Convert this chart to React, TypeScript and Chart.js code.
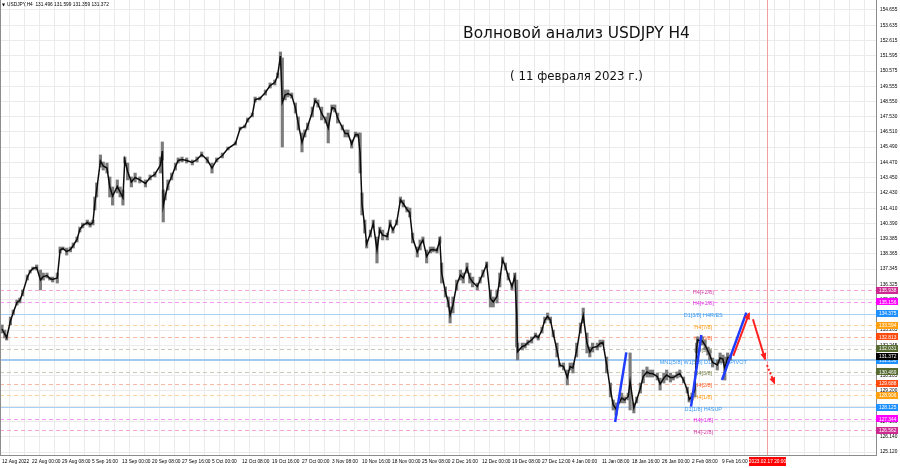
import React, { useEffect, useRef } from 'react';
import { Chart, registerables } from 'chart.js';

Chart.register(...registerables);

// ---- Price data (H4 bar index from 12 Aug 2022, sampled) ----
const candleBars = [0,3,5,9,12,16,19,22,27,30,33,37,41,44,48,51,54,59,62,65,69,73,76,80,83,86,91,94,97,99,101,105,108,112,115,118,123,126,129,131,134,138,142,147,153,158,163,169,171,172,174,177,181,185,188,192,197,203,208,213,219,224,229,235,241,249,254,259,262,267,270,275,281,286,291,294,297,299,302,305,309,313,316,320,323,326,331,334,337,341,345,348,352,355,358,363,366,369,373,377,380,382,384,387,389,393,396,400,403,406,411,414,417,421,425,428,432,435,438,443,446,449,453,457,460,464,467,469,473,476,478,481,485,489,492,496,499,502,507,510,513,517,521,524,528,531,534,537,540,544,547,549,550,555,558,561,565,569,572,576,579,582,585,588,592,595,599,603,606,609,613,617,620,624,627,630,635,638,641,645,649,652,655,661,664,668,670,674,677,681,684,688,691,694,699,702,706,709,713,716,720,723,727,731,733,736,739,741,742,747,750,753,755,758,763,766,769,771,774,777];

const candleHighs = [133.61,133.27,132.94,134.14,134.61,135.28,135.41,135.95,136.95,137.28,137.48,137.62,137.28,137.08,137.08,136.81,136.81,137.08,138.82,138.82,138.75,138.82,139.09,139.49,140.15,140.42,140.62,140.49,140.62,142.16,143.10,144.97,144.50,144.43,143.50,142.83,143.30,142.83,142.63,144.83,144.43,143.50,143.76,143.50,143.30,143.63,143.83,144.83,145.84,142.63,142.43,143.30,143.76,144.43,144.77,144.83,144.77,144.63,144.83,145.17,144.83,144.43,144.77,145.10,145.50,145.84,146.84,146.97,147.44,147.77,148.84,148.84,149.31,149.78,149.98,150.45,151.85,151.45,149.31,149.31,149.11,148.44,147.51,146.44,146.64,147.10,148.17,148.77,148.64,148.17,147.51,147.77,148.31,148.31,147.77,146.97,146.64,146.64,145.97,146.50,146.44,146.44,142.43,140.62,139.29,139.95,140.62,139.49,140.15,139.95,139.75,140.62,140.15,140.62,142.16,141.96,141.49,141.42,139.75,138.82,139.29,139.49,138.62,138.82,138.82,138.75,139.49,137.75,136.15,135.48,134.81,135.48,136.61,137.28,137.08,137.75,137.08,136.81,136.41,136.81,137.28,137.82,135.95,135.48,135.95,137.08,138.15,137.75,137.08,136.41,137.08,136.61,132.40,132.40,132.40,132.60,132.81,133.07,132.94,133.47,134.14,134.41,134.14,133.27,132.40,131.07,131.07,130.60,131.07,131.07,132.40,133.74,134.74,133.07,132.14,132.40,132.40,132.60,132.60,131.47,129.73,128.60,128.40,129.06,128.80,129.06,131.74,128.40,128.80,129.73,130.60,130.80,130.60,130.60,130.40,130.06,130.40,130.60,130.40,130.26,130.47,130.60,130.13,129.46,128.80,129.06,129.73,132.40,132.81,132.81,132.60,132.14,131.94,131.40,131.27,131.74,131.60,131.47,131.74,131.60];

const candleLows = [133.07,132.74,132.60,133.61,134.28,134.94,135.08,135.55,136.61,137.08,137.28,137.28,135.95,136.61,136.75,136.61,136.48,136.41,138.42,138.62,138.28,138.49,138.75,139.15,139.82,140.09,140.29,140.15,140.29,141.29,142.16,144.16,143.96,143.76,142.16,141.62,142.43,142.16,141.62,144.43,143.30,142.83,143.16,143.10,142.83,143.30,143.50,143.76,144.63,140.49,141.96,142.63,143.30,143.96,144.43,144.50,144.43,144.30,144.50,144.83,144.43,143.76,144.50,144.77,145.30,145.63,146.64,146.77,147.17,147.51,148.51,148.64,148.97,149.44,149.64,150.11,151.31,145.50,148.64,148.84,148.77,147.77,146.64,145.17,146.17,146.64,147.51,148.44,148.17,147.31,147.10,145.77,147.97,147.84,147.10,146.64,146.17,146.17,145.43,146.17,146.17,143.76,140.96,139.75,138.75,139.49,140.15,137.75,139.75,139.29,139.29,140.15,139.75,140.29,141.76,141.49,141.16,140.82,139.09,138.15,138.62,139.09,137.75,138.42,138.49,138.42,139.09,136.41,135.48,134.81,133.74,134.41,135.95,136.61,136.41,137.08,136.41,136.15,135.95,136.41,136.81,137.48,134.81,134.81,135.08,136.15,137.75,137.28,136.61,135.95,136.61,132.14,131.27,131.94,132.07,132.27,132.40,132.74,132.60,133.07,133.74,133.94,133.74,132.81,131.47,130.80,130.60,129.60,130.60,130.40,131.47,133.07,133.74,131.74,131.47,131.80,131.94,132.14,132.27,130.40,128.80,127.93,127.59,128.40,128.40,128.60,127.93,127.73,128.40,129.06,129.73,130.13,130.13,130.13,129.93,129.26,129.73,129.93,129.80,129.93,130.06,130.13,129.73,129.06,128.46,128.60,128.80,131.74,132.40,132.27,131.94,131.60,131.27,130.80,130.60,131.07,131.07,129.93,131.13,131.27];

// ---- Axis labels ----
const xTickLabels = ['12 Aug 2022','22 Aug 00:00','29 Aug 08:00','5 Sep 16:00','13 Sep 00:00','20 Sep 08:00','27 Sep 16:00','5 Oct 00:00','12 Oct 08:00','19 Oct 16:00','27 Oct 00:00','3 Nov 08:00','10 Nov 16:00','18 Nov 00:00','25 Nov 08:00','2 Dec 16:00','12 Dec 00:00','19 Dec 08:00','27 Dec 12:00','4 Jan 00:00','11 Jan 08:00','18 Jan 16:00','26 Jan 00:00','2 Feb 08:00','9 Feb 16:00'];
const barsPerLabel = 32;
const barsPerGrid = 16;
const xMin = -2.13;
const xMax = 932.3;

const priceTicks = [154.655,153.635,152.615,151.595,150.575,149.555,148.550,147.530,146.510,145.490,144.470,143.450,142.430,141.410,140.390,139.385,138.365,137.345,136.325,135.305,134.285,133.265,132.245,131.225,130.205,129.200,128.180,127.160,126.140,125.120];
const yMin = 124.921;
const yMax = 155.323;

// ---- Murrey levels ----
const levelPrices = [135.938,135.156,134.375,133.594,132.813,132.031,131.250,130.469,129.688,128.906,128.125,127.344,126.562];
const levelNames = ['H4[+2/8]','H4[+1/8]','D1[3/8] H4R/ES','H4[7/8]','H4[6/8]','H4[5/8]','MN1[5/8] W1[5/8] D1[5/8] H4PIVOT','H4[3/8]','H4[2/8]','H4[1/8]','D1[1/8] H4SUP','H4[-1/8]','H4[-2/8]'];
const levelLabelBar = 748;

const levelStyles = [
  { line: '#f3a6d6', text: '#d03aa0', box: '#cc2a90', dash: [4, 3], width: 1 },
  { line: '#f49af4', text: '#e02ee0', box: '#ff00ff', dash: [4, 3], width: 1 },
  { line: '#a9d0f6', text: '#3797f0', box: '#1e90ff', dash: [], width: 1 },
  { line: '#fbd3a2', text: '#ff9a10', box: '#ffa010', dash: [4, 3], width: 1 },
  { line: '#f9b8a2', text: '#ff5a20', box: '#ff4a10', dash: [4, 3], width: 1 },
  { line: '#c9cab8', text: '#6d7a3c', box: '#556b2f', dash: [4, 3], width: 1 },
  { line: '#a3cbf2', text: '#3797f0', box: '#1e90ff', dash: [], width: 2 },
  { line: '#c9cab8', text: '#6d7a3c', box: '#556b2f', dash: [4, 3], width: 1 },
  { line: '#f9b8a2', text: '#ff5a20', box: '#ff4a10', dash: [4, 3], width: 1 },
  { line: '#fbd3a2', text: '#ff9a10', box: '#ffa010', dash: [4, 3], width: 1 },
  { line: '#a9d0f6', text: '#3797f0', box: '#1e90ff', dash: [], width: 1 },
  { line: '#f49af4', text: '#e02ee0', box: '#ff00ff', dash: [4, 3], width: 1 },
  { line: '#f3a6d6', text: '#d03aa0', box: '#cc2a90', dash: [4, 3], width: 1 },
];

const symbolHeader = 'USDJPY,H4  131.496 131.599 131.359 131.372';
const currentPrice = 131.372;
const forecastBar = 816;
const forecastLabel = '2023.02.17 20:00';

// ---- Wave markup ----
const blueWaves: number[][][] = [
  [[654, 127.13], [666, 131.78]],
  [[735, 128.15], [746, 132.94]],
  [[768, 129.93], [794, 134.43]],
];
const redArrows: number[][][] = [
  [[780, 131.54], [797, 134.39]],
  [[801, 133.99], [814, 131.32]],
  [[816, 130.93], [824, 129.71]],
];
const redDotted = [false, false, true];

const titleText = 'Волновой анализ USDJPY H4';
const subtitleText = '( 11 февраля 2023 г.)';

const AXIS_FAMILY = '"Liberation Sans Narrow", "Liberation Sans", Arial, sans-serif';
const SMALL_FONT = `4.8px ${AXIS_FAMILY}`;

const overlayPlugin = {
  id: 'overlay',
  beforeDatasetsDraw(chart: any) {
    const { ctx, chartArea: a, scales } = chart;
    const x = scales.x, y = scales.y;
    ctx.save();
    const fx = Math.round(x.getPixelForValue(forecastBar)) + 0.5;
    ctx.strokeStyle = '#f0a0a0';
    ctx.lineWidth = 1;
    ctx.beginPath();
    ctx.moveTo(fx, a.top);
    ctx.lineTo(fx, a.bottom);
    ctx.stroke();
    levelPrices.forEach((p, i) => {
      const st = levelStyles[i];
      const py = Math.round(y.getPixelForValue(p)) + (st.width === 2 ? 0 : 0.5);
      ctx.setLineDash(st.dash);
      ctx.strokeStyle = st.line;
      ctx.lineWidth = st.width;
      ctx.beginPath();
      ctx.moveTo(a.left, py);
      ctx.lineTo(a.right, py);
      ctx.stroke();
    });
    ctx.setLineDash([]);
    ctx.font = '5.5px "Liberation Sans", Arial, sans-serif';
    ctx.textAlign = 'center';
    ctx.textBaseline = 'middle';
    const lx = x.getPixelForValue(levelLabelBar);
    levelPrices.forEach((p, i) => {
      ctx.fillStyle = levelStyles[i].text;
      ctx.fillText(levelNames[i], lx, y.getPixelForValue(p) + 2);
    });
    ctx.restore();
  },
  afterDatasetsDraw(chart: any) {
    const { ctx, scales } = chart;
    const x = scales.x, y = scales.y;
    ctx.save();
    ctx.fillStyle = '#ff1f1f';
    redArrows.forEach((seg) => {
      const x0 = x.getPixelForValue(seg[0][0]), y0 = y.getPixelForValue(seg[0][1]);
      const x1 = x.getPixelForValue(seg[1][0]), y1 = y.getPixelForValue(seg[1][1]);
      const ang = Math.atan2(y1 - y0, x1 - x0);
      const len = 6, half = 3;
      ctx.beginPath();
      ctx.moveTo(x1 + Math.cos(ang) * 1.5, y1 + Math.sin(ang) * 1.5);
      ctx.lineTo(x1 - Math.cos(ang) * len + Math.cos(ang + Math.PI / 2) * half, y1 - Math.sin(ang) * len + Math.sin(ang + Math.PI / 2) * half);
      ctx.lineTo(x1 - Math.cos(ang) * len - Math.cos(ang + Math.PI / 2) * half, y1 - Math.sin(ang) * len - Math.sin(ang + Math.PI / 2) * half);
      ctx.closePath();
      ctx.fill();
    });
    ctx.restore();
  },
  afterDraw(chart: any) {
    const { ctx, chartArea: a, scales } = chart;
    const x = scales.x, y = scales.y;
    ctx.save();
    ctx.strokeStyle = '#8c8c8c';
    ctx.lineWidth = 1;
    ctx.beginPath();
    ctx.moveTo(a.left + 0.5, a.top);
    ctx.lineTo(a.left + 0.5, a.bottom);
    ctx.stroke();

    ctx.font = SMALL_FONT;
    ctx.textAlign = 'left';
    ctx.textBaseline = 'middle';
    const boxW = 22, boxH = 7;
    levelPrices.forEach((p, i) => {
      const py = y.getPixelForValue(p);
      ctx.fillStyle = levelStyles[i].box;
      ctx.fillRect(a.right, Math.round(py - boxH / 2), boxW, boxH);
      ctx.fillStyle = '#ffffff';
      ctx.fillText(p.toFixed(3), a.right + 3, py + 0.5);
    });
    const cy = y.getPixelForValue(currentPrice) - 2;
    ctx.fillStyle = '#000000';
    ctx.fillRect(a.right, Math.round(cy - boxH / 2), boxW, boxH);
    ctx.fillStyle = '#ffffff';
    ctx.fillText(currentPrice.toFixed(3), a.right + 3, cy + 0.5);

    const fx = x.getPixelForValue(forecastBar);
    ctx.fillStyle = '#ff0000';
    ctx.fillRect(Math.round(fx - 18), a.bottom + 2, 37, 9);
    ctx.fillStyle = '#ffffff';
    ctx.textAlign = 'center';
    ctx.fillText(forecastLabel, fx + 0.5, a.bottom + 6.5);

    ctx.fillStyle = '#000000';
    ctx.textAlign = 'left';
    ctx.font = '4px "DejaVu Sans", sans-serif';
    ctx.fillText('▼', a.left + 2, a.top + 5);
    ctx.font = SMALL_FONT;
    ctx.fillText(symbolHeader, a.left + 7, a.top + 5);

    const fitFont = (text: string, width: number, weight: string) => {
      ctx.font = `${weight} 20px "DejaVu Sans", sans-serif`;
      const w = ctx.measureText(text).width;
      const size = 20 * width / w;
      ctx.font = `${weight} ${size.toFixed(2)}px "DejaVu Sans", sans-serif`;
    };
    ctx.textAlign = 'center';
    ctx.textBaseline = 'middle';
    ctx.fillStyle = '#111111';
    fitFont(titleText, 227, 'normal');
    ctx.fillText(titleText, 576.5, 34);
    fitFont(subtitleText, 133, 'normal');
    ctx.fillText(subtitleText, 576.5, 77);
    ctx.restore();
  },
};

export default function App() {
  const ref = useRef<HTMLCanvasElement>(null);
  useEffect(() => {
    document.body.style.margin = '0';
    const candleData = candleBars.map((b, i) => ({ x: b, y: [candleLows[i], candleHighs[i]] }));
    const midData = candleBars.map((b, i) => ({ x: b, y: (candleLows[i] + candleHighs[i]) / 2 }));
    const gridBars: number[] = [];
    for (let v = 0; v <= xMax; v += barsPerGrid) gridBars.push(v);

    const datasets: any[] = [
      { type: 'bar', data: candleData, backgroundColor: '#7c7c7c', barThickness: 2.5, order: 4 },
      { type: 'line', data: midData, borderColor: '#0d0d0d', borderWidth: 1.5, pointRadius: 0, order: 3 },
      ...blueWaves.map((w) => ({
        type: 'line', data: w.map(([bx, by]) => ({ x: bx, y: by })), borderColor: '#1f3cff', borderWidth: 2.5,
        pointRadius: 0, order: 1,
      })),
      ...redArrows.map((w, i) => ({
        type: 'line', data: w.map(([bx, by]) => ({ x: bx, y: by })), borderColor: '#ff1f1f', borderWidth: 2,
        borderDash: redDotted[i] ? [2, 2] : [], pointRadius: 0, order: 0,
      })),
    ];

    const chart = new Chart(ref.current as HTMLCanvasElement, {
      type: 'bar',
      data: { datasets },
      options: {
        animation: false,
        responsive: false,
        devicePixelRatio: 1,
        events: [],
        layout: { padding: 0 },
        plugins: { legend: { display: false }, tooltip: { enabled: false }, title: { display: false } },
        scales: {
          x: {
            type: 'linear',
            min: xMin,
            max: xMax,
            offset: false,
            grid: { color: '#ebebeb', lineWidth: 1, drawTicks: false },
            border: { display: true, color: '#8c8c8c' },
            ticks: {
              autoSkip: false,
              maxRotation: 0,
              align: 'start',
              padding: 4,
              color: '#000000',
              font: { size: 4.8, family: AXIS_FAMILY },
              callback: (v: any) => {
                const n = Number(v);
                if (n % barsPerLabel === 0 && n / barsPerLabel < xTickLabels.length) return xTickLabels[n / barsPerLabel];
                return '';
              },
            },
            afterBuildTicks: (s: any) => { s.ticks = gridBars.map((v) => ({ value: v })); },
            afterFit: (s: any) => { s.height = 13; s.paddingLeft = 0; s.paddingRight = 0; },
          },
          y: {
            type: 'linear',
            position: 'right',
            min: yMin,
            max: yMax,
            grid: { color: '#ebebeb', lineWidth: 1, drawTicks: false },
            border: { display: true, color: '#8c8c8c' },
            ticks: {
              padding: 4,
              color: '#000000',
              font: { size: 4.8, family: AXIS_FAMILY },
              callback: (v: any) => Number(v).toFixed(3),
            },
            afterBuildTicks: (s: any) => { s.ticks = priceTicks.map((v) => ({ value: v })); },
            afterFit: (s: any) => { s.width = 24; s.paddingTop = 0; s.paddingBottom = 0; },
          },
        },
      } as any,
      plugins: [overlayPlugin],
    });
    return () => chart.destroy();
  }, []);

  return (
    <div style={{ width: 900, height: 468 }}>
      <canvas ref={ref} width={900} height={468} style={{ display: 'block' }} />
    </div>
  );
}
